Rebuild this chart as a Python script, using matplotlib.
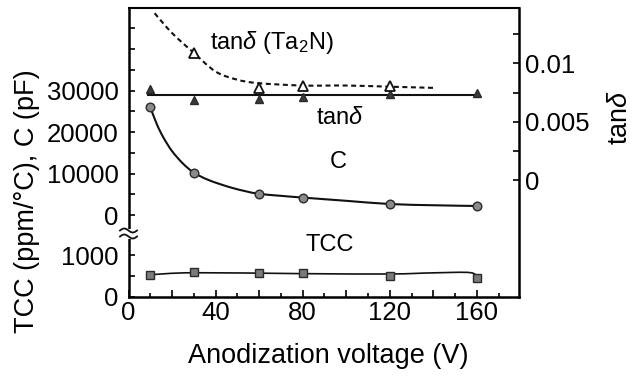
import numpy as np
import matplotlib
matplotlib.use("Agg")
import matplotlib.pyplot as plt
from matplotlib.path import Path
from matplotlib.patches import PathPatch, Rectangle
from matplotlib.lines import Line2D

plt.rcParams['font.family'] = ['Liberation Sans', 'DejaVu Sans']
plt.rcParams['mathtext.fontset'] = 'custom'
plt.rcParams['mathtext.rm'] = 'Liberation Sans'
plt.rcParams['mathtext.it'] = 'Liberation Sans:italic'
plt.rcParams['mathtext.bf'] = 'Liberation Sans:bold'

# ---- measured values ----
voltage = [10, 30, 60, 80, 120, 160]
capacitance_pf = [26000, 10200, 5100, 4200, 2650, 2170]
tcc_ppm = [524, 588, 564, 564, 500, 445]
tan_delta = [0.00777, 0.00686, 0.00692, 0.00714, 0.00737, 0.00743]
ta2n_voltage = [30, 60, 80, 120]
tan_delta_ta2n = [0.0109, 0.00786, 0.00808, 0.0081]

# ---- fitted guide curves ----
cap_fit_v = [10, 13, 16, 20, 25, 30, 36, 42, 48, 54, 60, 70, 80, 100, 120, 140, 160]
cap_fit_pf = [26000, 21900, 18700, 15400, 12400, 10200, 8600, 7450, 6480, 5700, 5100,
              4620, 4200, 3420, 2650, 2350, 2170]
tcc_fit_v = [10, 30, 80, 120, 140, 157, 160]
tcc_fit_ppm = [530, 578, 556, 548, 575, 580, 455]
tan_fit_v = [9, 160]
tan_fit = [0.0073, 0.0073]
ta2n_fit_v = [12, 20, 30, 40, 50, 60, 80, 100, 120, 140]
ta2n_fit = [0.0143, 0.0126, 0.0109, 0.0093, 0.0086, 0.0083, 0.0081, 0.0081, 0.0080, 0.0079]

x_major = [0, 20, 40, 60, 80, 100, 120, 140, 160]
x_labels = ['0', '', '40', '', '80', '', '120', '', '160']


def smooth_path(xs, ys):
    """Catmull-Rom curve through the given points as a cubic Bezier path."""
    pts = np.column_stack([xs, ys]).astype(float)
    verts = [pts[0]]
    codes = [Path.MOVETO]
    n = len(pts)
    for i in range(n - 1):
        p0 = pts[i - 1] if i > 0 else pts[i]
        p1 = pts[i]
        p2 = pts[i + 1]
        p3 = pts[i + 2] if i + 2 < n else pts[i + 1]
        c1 = p1 + (p2 - p0) / 6.0
        c2 = p2 - (p3 - p1) / 6.0
        verts += [c1, c2, p2]
        codes += [Path.CURVE4] * 3
    return Path(verts, codes)


W, H = 632, 376
fig = plt.figure(figsize=(W / 100, H / 100), dpi=100)

left_px, right_px = 128.5, 519.3
top_px, bottom_px, break_px = 7.5, 297.0, 233.0
L = left_px / W
Wd = (right_px - left_px) / W
B = 1 - bottom_px / H
Bb = 1 - break_px / H
T = 1 - top_px / H

ax_up = fig.add_axes([L, Bb, Wd, T - Bb])
ax_low = fig.add_axes([L, B, Wd, Bb - B])
ax_r = fig.add_axes([L, B, Wd, T - B])
ax_r.patch.set_visible(False)

xlim = (0, 179.5)
for ax in (ax_up, ax_low, ax_r):
    ax.set_xlim(*xlim)

spine_w = 1.8
tick_fs = 18.5

# upper panel: capacitance
ax_up.set_ylim(-4337, 50000)
ax_up.spines['right'].set_visible(False)
ax_up.spines['bottom'].set_visible(False)
ax_up.spines['left'].set_linewidth(spine_w)
ax_up.spines['top'].set_linewidth(1.5)
ax_up.set_yticks([0, 10000, 20000, 30000, 40000])
ax_up.set_yticklabels(['0', '10000', '20000', '30000', ''])
ax_up.set_yticks([5000, 15000, 25000, 35000, 45000], minor=True)
ax_up.tick_params(axis='y', which='both', direction='in', length=4, width=1.2,
                  labelsize=tick_fs, pad=7)
ax_up.tick_params(axis='x', which='both', bottom=False, labelbottom=False)

ax_up.add_patch(PathPatch(smooth_path(cap_fit_v, cap_fit_pf), fill=False,
                          edgecolor='#111111', lw=1.5, zorder=2))
ax_up.plot(voltage, capacitance_pf, ls='none', marker='o', ms=6.2,
           mfc='#8a8a8a', mec='#2a2a2a', mew=1.0, zorder=3)

# lower panel: TCC
ax_low.set_ylim(0, 1524)
ax_low.spines['right'].set_visible(False)
ax_low.spines['top'].set_visible(False)
ax_low.spines['left'].set_linewidth(spine_w)
ax_low.spines['bottom'].set_linewidth(spine_w)
ax_low.set_yticks([0, 500, 1000])
ax_low.set_yticklabels(['0', '', '1000'])
ax_low.tick_params(axis='y', which='both', direction='in', length=4, width=1.2,
                   labelsize=tick_fs, pad=7)
ax_low.set_xticks(x_major)
ax_low.set_xticklabels(x_labels)
ax_low.set_xticks(np.arange(10, 180, 20), minor=True)
ax_low.tick_params(axis='x', which='major', direction='in', length=5, width=1.2,
                   labelsize=tick_fs, pad=3)
ax_low.tick_params(axis='x', which='minor', direction='in', length=3, width=1.2)

ax_low.add_patch(PathPatch(smooth_path(tcc_fit_v, tcc_fit_ppm), fill=False,
                           edgecolor='#111111', lw=1.2, zorder=2))
ax_low.plot(voltage, tcc_ppm, ls='none', marker='s', ms=6.2,
            mfc='#7a7a7a', mec='#2a2a2a', mew=1.0, zorder=3)

# right axis: loss tangent
ax_r.set_ylim(-0.01003, 0.01479)
for s in ('left', 'top', 'bottom'):
    ax_r.spines[s].set_visible(False)
ax_r.spines['right'].set_linewidth(spine_w)
ax_r.yaxis.tick_right()
ax_r.set_yticks([0, 0.0025, 0.005, 0.0075, 0.01, 0.0125])
ax_r.set_yticklabels(['0', '', '0.005', '', '0.01', ''])
ax_r.tick_params(axis='y', which='both', direction='in', length=4, width=1.2,
                 labelsize=tick_fs, pad=4)
ax_r.tick_params(axis='x', which='both', bottom=False, labelbottom=False)

ax_r.plot(tan_fit_v, tan_fit, color='#111111', lw=1.5, zorder=2)
ax_r.add_patch(PathPatch(smooth_path(ta2n_fit_v, ta2n_fit), fill=False,
                         edgecolor='#111111', lw=1.5, ls=(0, (2.4, 1.7)), zorder=2))
ax_r.plot(voltage, tan_delta, ls='none', marker='^', ms=6,
          mfc='#3a3a3a', mec='#2a2a2a', mew=1.0, zorder=3)
ax_r.plot(ta2n_voltage, tan_delta_ta2n, ls='none', marker='^', ms=7.5,
          mfc='white', mec='#111111', mew=1.3, zorder=4)

# axis titles
fig.text(27 / W, 1 - 201 / H, 'TCC (ppm/°C), C (pF)', rotation=90,
         ha='center', va='center', fontsize=19.5)
fig.text(328.5 / W, 1 - 356 / H, 'Anodization voltage (V)',
         ha='center', va='center', fontsize=19.5)
fig.text(620 / W, 1 - 117 / H, r'tan$\delta$', rotation=90,
         ha='center', va='center', fontsize=19.5)

# curve labels
fig.text(272 / W, 1 - 43 / H, r'tan$\delta$ (Ta$_2$N)', ha='center', va='center', fontsize=17)
fig.text(340 / W, 1 - 118 / H, r'tan$\delta$', ha='center', va='center', fontsize=17)
fig.text(338 / W, 1 - 162 / H, 'C', ha='center', va='center', fontsize=17)
fig.text(330 / W, 1 - 245 / H, 'TCC', ha='center', va='center', fontsize=17)

# axis-break mark on the left spine
tf = fig.transFigure
fig.add_artist(Rectangle((124 / W, 1 - 238.5 / H), 9 / W, 10 / H,
                         transform=tf, facecolor='white', edgecolor='none', zorder=5))
t = np.linspace(0, 1, 30)
for yc in (230.5, 236.5):
    xs = (120 + 17 * t) / W
    ys = 1 - (yc - 2.0 * np.sin(2 * np.pi * t)) / H
    fig.add_artist(Line2D(xs, ys, transform=tf, color='#111111', lw=1.3, zorder=6))

fig.savefig('out.png', dpi=100)
